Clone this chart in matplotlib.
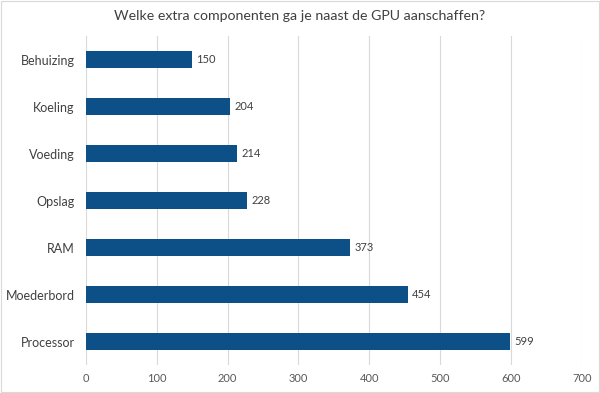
import matplotlib
matplotlib.use("Agg")
import matplotlib.pyplot as plt

# Data (top to bottom as displayed)
categories = ["Behuizing", "Koeling", "Voeding", "Opslag", "RAM", "Moederbord", "Processor"]
values = [150, 204, 214, 228, 373, 454, 599]
xticks = [0, 100, 200, 300, 400, 500, 600, 700]

plt.rcParams['font.family'] = ['Lato', 'DejaVu Sans']

fig = plt.figure(figsize=(6, 3.93), dpi=100)
ax = fig.add_axes([0.143, 0.071, 0.827, 0.837])

bar_color = "#0D5088"
y = list(range(len(categories)))
bars = ax.barh(y, values, height=0.35, color=bar_color, zorder=3)
for yi, v in zip(y, values):
    ax.text(v + 6, yi, str(v), va="center", ha="left", fontsize=8, color="#404040")

ax.set_ylim(len(categories) - 0.5, -0.5)
ax.set_yticks(y)
ax.set_yticklabels(categories, fontsize=9, color="#404040")
ax.set_xlim(0, 700)
ax.set_xticks(xticks)
ax.set_xticklabels([str(t) for t in xticks], fontsize=8, color="#595959")
ax.tick_params(length=0, pad=6)
ax.tick_params(axis="y", pad=8)
ax.grid(axis="x", color="#D9D9D9", linewidth=0.8, zorder=0)
for s in ax.spines.values():
    s.set_visible(False)

fig.suptitle("Welke extra componenten ga je naast de GPU aanschaffen?",
             fontsize=10.2, color="#404040", y=0.975)

# light chart border
fig.patches.append(plt.Rectangle((0.002, 0.002), 0.996, 0.996, transform=fig.transFigure,
                                 fill=False, edgecolor="#D9D9D9", linewidth=0.8))

fig.savefig("out.png", dpi=100)
